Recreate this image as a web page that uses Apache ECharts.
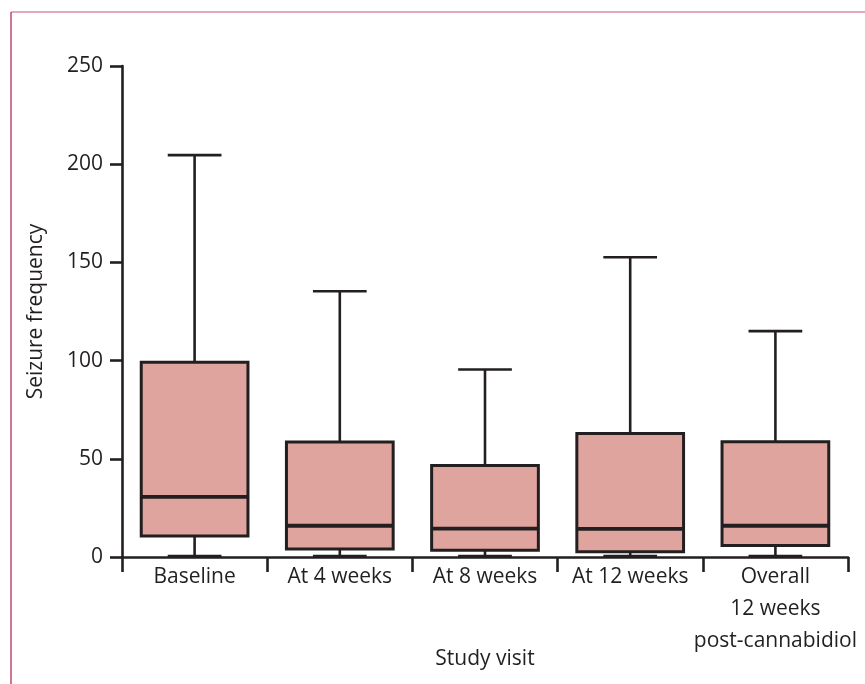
<!DOCTYPE html>
<html><head><meta charset="utf-8">
<script src="https://cdn.jsdelivr.net/npm/echarts@6/dist/echarts.min.js"></script>
<style>html,body{margin:0;padding:0;background:#fff}#c{width:865px;height:684px}</style>
</head><body><div id="c"></div>
<script>
const categories = ['Baseline', 'At 4 weeks', 'At 8 weeks', 'At 12 weeks', 'Overall\n12 weeks\npost-cannabidiol'];
const whiskerLow = [0.5, 0.5, 0.5, 0.5, 0.5];
const quartile1 = [10.7, 4.1, 3.4, 2.7, 5.8];
const medians = [30.6, 15.9, 14.4, 14.3, 15.9];
const quartile3 = [99.2, 58.6, 46.6, 62.9, 58.7];
const whiskerHigh = [204.6, 135.3, 95.5, 152.6, 115.0];
const yTicks = { min: 0, max: 250, interval: 50 };

const INK = '#231f20';
const FONT = 'Open Sans';
const chart = echarts.init(document.getElementById('c'), null, { renderer: 'canvas' });

const seriesData = categories.map((c, i) => [i, whiskerLow[i], quartile1[i], medians[i], quartile3[i], whiskerHigh[i]]);

function renderBox(params, api) {
  const i = api.value(0);
  const band = api.size([1, 0])[0];
  const bw = band * 0.735;
  const cw = band * 0.37;
  const pMin = api.coord([i, api.value(1)]);
  const pQ1 = api.coord([i, api.value(2)]);
  const pMed = api.coord([i, api.value(3)]);
  const pQ3 = api.coord([i, api.value(4)]);
  const pMax = api.coord([i, api.value(5)]);
  const cx = pMin[0];
  const line = (x1, y1, x2, y2, w) => ({
    type: 'line', shape: { x1, y1, x2, y2 },
    style: { stroke: INK, lineWidth: w, lineCap: 'butt' }
  });
  return {
    type: 'group',
    children: [
      line(cx, pMax[1], cx, pQ3[1], 2.6),
      line(cx - cw / 2, pMax[1], cx + cw / 2, pMax[1], 2.6),
      line(cx, pQ1[1], cx, pMin[1], 2.6),
      line(cx - cw / 2, pMin[1], cx + cw / 2, pMin[1], 2.6),
      {
        type: 'rect',
        shape: { x: cx - bw / 2, y: pQ3[1], width: bw, height: pQ1[1] - pQ3[1] },
        style: { fill: '#e0a49f', stroke: INK, lineWidth: 3 }
      },
      line(cx - bw / 2, pMed[1], cx + bw / 2, pMed[1], 3.8)
    ]
  };
}

chart.setOption({
  animation: false,
  backgroundColor: '#fff',
  grid: { left: 122, right: 17, top: 66, bottom: 127, containLabel: false, outerBoundsMode: 'none' },
  graphic: [
    { type: 'line', shape: { x1: 11, y1: 12, x2: 865, y2: 12 }, style: { stroke: '#e08aa0', lineWidth: 1.5 } },
    { type: 'line', shape: { x1: 11, y1: 12, x2: 11, y2: 684 }, style: { stroke: '#c4476c', lineWidth: 1.5 } }
  ],
  xAxis: {
    type: 'category',
    data: categories,
    boundaryGap: true,
    name: 'Study visit',
    nameLocation: 'middle',
    nameGap: 92,
    nameMoveOverlap: false,
    nameTextStyle: { fontFamily: FONT, fontSize: 21, color: INK },
    axisLine: { lineStyle: { color: INK, width: 2.6 } },
    axisTick: { show: true, length: 15, interval: 0, lineStyle: { color: INK, width: 2.6 } },
    axisLabel: { interval: 0, margin: 4, fontFamily: FONT, fontSize: 21, color: INK, lineHeight: 32 },
    splitLine: { show: false }
  },
  yAxis: {
    type: 'value',
    min: yTicks.min, max: yTicks.max, interval: yTicks.interval,
    name: 'Seizure frequency',
    nameLocation: 'middle',
    nameGap: 75,
    nameMoveOverlap: false,
    nameTextStyle: { fontFamily: FONT, fontSize: 21, color: INK },
    axisLine: { show: true, lineStyle: { color: INK, width: 2.6 } },
    axisTick: { show: true, length: 12, lineStyle: { color: INK, width: 2.6 } },
    axisLabel: { margin: 19, fontFamily: FONT, fontSize: 21, color: INK },
    splitLine: { show: false }
  },
  series: [{
    type: 'custom',
    renderItem: renderBox,
    data: seriesData,
    encode: { x: 0, y: [1, 2, 3, 4, 5] },
    clip: false
  }]
});
</script>
</body></html>
